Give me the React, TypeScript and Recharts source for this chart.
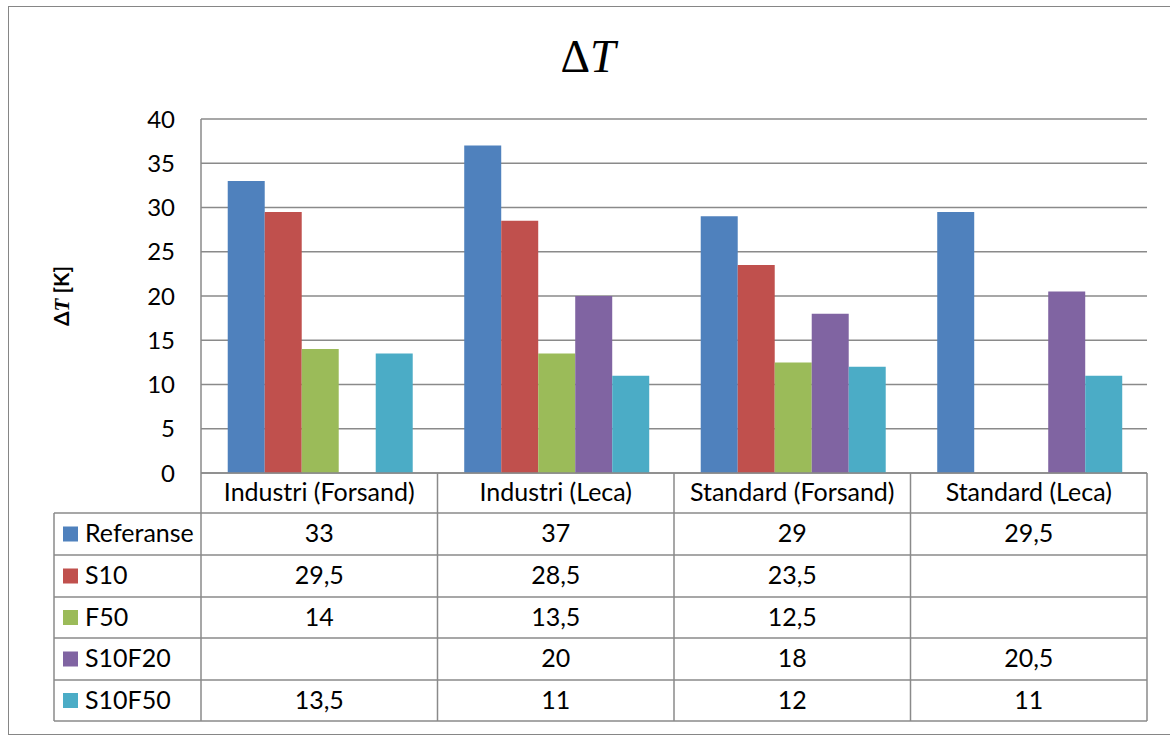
import { BarChart, Bar, XAxis, YAxis, CartesianGrid } from "recharts";

const categories = ["Industri (Forsand)", "Industri (Leca)", "Standard (Forsand)", "Standard (Leca)"];
const seriesNames = ["Referanse", "S10", "F50", "S10F20", "S10F50"];
const referanse = [33, 37, 29, 29.5];
const s10 = [29.5, 28.5, 23.5, null];
const f50 = [14, 13.5, 12.5, null];
const s10f20 = [null, 20, 18, 20.5];
const s10f50 = [13.5, 11, 12, 11];
const yTicks = [0, 5, 10, 15, 20, 25, 30, 35, 40];

const colors = ["#4F81BD", "#C0504D", "#9BBB59", "#8064A2", "#4BACC6"];
const allSeries = [referanse, s10, f50, s10f20, s10f50];

const W = 1170;
const H = 735;
const PLOT_L = 201;
const PLOT_R = 1147;
const PLOT_T = 119;
const PLOT_B = 473;
const Y_AXIS_W = 60;
const TABLE_L = 54;
const ROW_Y = [473, 513, 555, 597, 638, 680, 721];
const LINE = "#8a8a8a";
const FONT = "Lato, 'Noto Sans', sans-serif";
const FS = 25;

const data = categories.map((name, i) => ({
  name,
  Referanse: referanse[i],
  S10: s10[i],
  F50: f50[i],
  S10F20: s10f20[i],
  S10F50: s10f50[i],
}));

const fmt = (v: number | null) => (v == null ? "" : String(v).replace(".", ","));

function DataTable() {
  const colW = (PLOT_R - PLOT_L) / categories.length;
  const cx = (i: number) => PLOT_L + colW * i + colW / 2;
  const rowMid = (r: number) => (ROW_Y[r] + ROW_Y[r + 1]) / 2;
  return (
    <svg width={W} height={H} style={{ position: "absolute", left: 0, top: 0, pointerEvents: "none" }}>
      {/* title */}
      <text x={588} y={72} textAnchor="middle" fontFamily="'Liberation Serif', serif" fontSize={46} fill="#000">
        Δ<tspan fontStyle="italic">T</tspan>
      </text>
      {/* y axis label */}
      <text
        transform="translate(69 296) rotate(-90)"
        textAnchor="middle"
        fontFamily={FONT}
        fontWeight="bold"
        fontSize={21}
        fill="#000"
      >
        Δ<tspan fontStyle="italic" fontFamily="'Liberation Serif', serif">T</tspan> [K]
      </text>

      {/* horizontal lines */}
      <line x1={PLOT_L} x2={PLOT_R} y1={ROW_Y[0]} y2={ROW_Y[0]} stroke={LINE} strokeWidth={1.5} />
      {ROW_Y.slice(1).map((y, i) => (
        <line key={i} x1={TABLE_L} x2={PLOT_R} y1={y} y2={y} stroke={LINE} strokeWidth={1.5} />
      ))}
      {/* vertical lines */}
      <line x1={TABLE_L} x2={TABLE_L} y1={ROW_Y[1]} y2={ROW_Y[6]} stroke={LINE} strokeWidth={1.5} />
      {[0, 1, 2, 3, 4].map((i) => (
        <line
          key={i}
          x1={PLOT_L + colW * i}
          x2={PLOT_L + colW * i}
          y1={ROW_Y[0]}
          y2={ROW_Y[6]}
          stroke={LINE}
          strokeWidth={1.5}
        />
      ))}

      {/* header */}
      {categories.map((c, i) => (
        <text key={c} x={cx(i)} y={rowMid(0) + 8} textAnchor="middle" fontFamily={FONT} fontSize={FS} fill="#000">
          {c}
        </text>
      ))}

      {/* rows */}
      {seriesNames.map((s, r) => (
        <g key={s}>
          <rect x={63} y={rowMid(r + 1) - 7.5} width={15} height={15} fill={colors[r]} />
          <text x={85} y={rowMid(r + 1) + 8} fontFamily={FONT} fontSize={FS} fill="#000">
            {s}
          </text>
          {allSeries[r].map((v, i) => (
            <text key={i} x={cx(i)} y={rowMid(r + 1) + 8} textAnchor="middle" fontFamily={FONT} fontSize={FS} fill="#000">
              {fmt(v)}
            </text>
          ))}
        </g>
      ))}
    </svg>
  );
}

export default function App() {
  return (
    <div style={{ position: "relative", width: W, height: H, overflow: "hidden", background: "#fff" }}>
      <style>{`body{margin:0;overflow:hidden}`}</style>
      <div
        style={{
          position: "absolute",
          left: 8,
          top: 6,
          width: 1200,
          height: 727,
          border: "1px solid #868686",
        }}
      />
      <div style={{ position: "absolute", left: 0, top: 0 }}>
        <BarChart
          width={W}
          height={H}
          data={data}
          margin={{ top: PLOT_T, right: W - PLOT_R, bottom: H - PLOT_B, left: PLOT_L - Y_AXIS_W }}
          barCategoryGap="11.3%"
          barGap={0}
        >
          <CartesianGrid vertical={false} stroke={LINE} strokeWidth={1.5} />
          <XAxis dataKey="name" height={0} tick={false} axisLine={false} tickLine={false} />
          <YAxis
            width={Y_AXIS_W}
            domain={[0, 40]}
            ticks={yTicks}
            interval={0}
            axisLine={{ stroke: LINE, strokeWidth: 1.5 }}
            tickLine={false}
            tickSize={0}
            tickMargin={26}
            tick={{ fill: "#000", fontSize: FS - 1, fontFamily: FONT }}
          />
          {seriesNames.map((s, i) => (
            <Bar key={s} dataKey={s} fill={colors[i]} isAnimationActive={false} />
          ))}
        </BarChart>
      </div>
      <DataTable />
    </div>
  );
}
